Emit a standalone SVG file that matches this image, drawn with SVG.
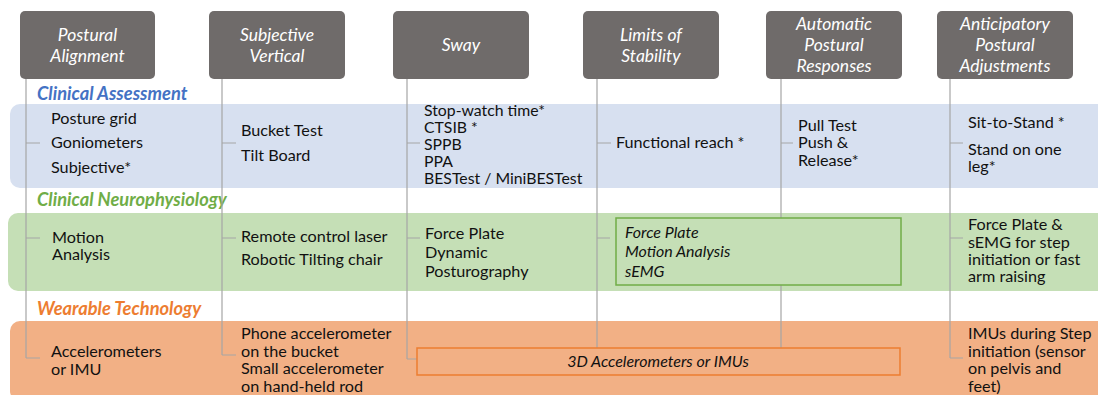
<svg xmlns="http://www.w3.org/2000/svg" width="1098" height="395" viewBox="0 0 1098 395">
<style>
.hdr{fill:#6f6b6a}
.ht{font-family:Lato,"Open Sans",sans-serif;font-style:italic;font-size:17.5px;fill:#ffffff;text-anchor:middle}
.t{font-family:Lato,"Open Sans",sans-serif;font-size:16.2px;fill:#111111}
.ts{font-family:Lato,"Open Sans",sans-serif;font-size:15.8px;fill:#111111}
.ti{font-family:Lato,"Open Sans",sans-serif;font-size:16px;font-style:italic;fill:#111111}
.sec{font-family:Lato,"Open Sans",sans-serif;font-size:18.3px;font-style:italic;font-weight:bold}
.ln{stroke:#a6a6a6;stroke-width:1.2;fill:none}
</style>
<g id="bands">
<rect x="10" y="104" width="1100" height="84" rx="10" fill="#d7e0f0"/>
<rect x="8" y="213" width="1100" height="78" rx="10" fill="#c5dfb6"/>
<rect x="10" y="321" width="1100" height="80" rx="10" fill="#f2b085"/>
</g>
<g id="section-labels">
<text class="sec" x="37" y="100" fill="#4472c4">Clinical Assessment</text>
<text class="sec" x="37" y="206" fill="#70ad47">Clinical Neurophysiology</text>
<text class="sec" x="37" y="315" fill="#ed7d31">Wearable Technology</text>
</g>
<g id="connectors">
<path class="ln" d="M26 79V358M26 143H40M26 238H40M26 358H40"/>
<path class="ln" d="M222 79V355M222 143H236M222 238H236M222 355H236"/>
<path class="ln" d="M407 79V359M407 143H420M407 238H420M407 359H417"/>
<path class="ln" d="M597 79V348M597 143H611M597 238H610"/>
<path class="ln" d="M781 79V348M781 143H793"/>
<path class="ln" d="M950 79V358M950 143H963M950 238H963M950 358H963"/>
</g>
<g id="node-postural-alignment">
<rect class="hdr" x="20" y="11" width="135" height="68" rx="5"/>
<text class="ht" x="87.5" y="41">Postural</text>
<text class="ht" x="87.5" y="62">Alignment</text>
</g>
<g id="node-subjective-vertical">
<rect class="hdr" x="209" y="11" width="136" height="68" rx="5"/>
<text class="ht" x="277" y="41">Subjective</text>
<text class="ht" x="277" y="62">Vertical</text>
</g>
<g id="node-sway">
<rect class="hdr" x="393" y="11" width="136" height="68" rx="5"/>
<text class="ht" x="461" y="51">Sway</text>
</g>
<g id="node-limits-of-stability">
<rect class="hdr" x="583" y="11" width="136" height="68" rx="5"/>
<text class="ht" x="651" y="41">Limits of</text>
<text class="ht" x="651" y="62">Stability</text>
</g>
<g id="node-automatic-postural-responses">
<rect class="hdr" x="766" y="11" width="136" height="68" rx="5"/>
<text class="ht" x="834" y="30">Automatic</text>
<text class="ht" x="834" y="51">Postural</text>
<text class="ht" x="834" y="72">Responses</text>
</g>
<g id="node-anticipatory-postural-adjustments">
<rect class="hdr" x="937" y="11" width="136" height="68" rx="5"/>
<text class="ht" x="1005" y="30">Anticipatory</text>
<text class="ht" x="1005" y="51">Postural</text>
<text class="ht" x="1005" y="72">Adjustments</text>
</g>
<g id="ca-postural-alignment">
<text class="t" x="51" y="124">Posture grid</text>
<text class="t" x="51" y="148">Goniometers</text>
<text class="t" x="51" y="173">Subjective*</text>
</g>
<g id="ca-subjective-vertical">
<text class="t" x="241" y="136">Bucket Test</text>
<text class="t" x="241" y="161">Tilt Board</text>
</g>
<g id="ca-sway">
<text class="ts" x="424" y="116">Stop-watch time*</text>
<text class="ts" x="424" y="133">CTSIB *</text>
<text class="ts" x="424" y="150">SPPB</text>
<text class="ts" x="424" y="167">PPA</text>
<text class="ts" x="424" y="184">BESTest / MiniBESTest</text>
</g>
<g id="ca-limits">
<text class="t" x="616" y="148">Functional reach *</text>
</g>
<g id="ca-automatic">
<text class="t" x="798" y="131">Pull Test</text>
<text class="t" x="798" y="148">Push &amp;</text>
<text class="t" x="798" y="166">Release*</text>
</g>
<g id="ca-anticipatory">
<text class="t" x="968" y="128">Sit-to-Stand *</text>
<text class="t" x="968" y="155">Stand on one</text>
<text class="t" x="968" y="172">leg*</text>
</g>
<g id="cn-postural-alignment">
<text class="t" x="52" y="243">Motion</text>
<text class="t" x="52" y="260">Analysis</text>
</g>
<g id="cn-subjective-vertical">
<text class="t" x="241" y="242">Remote control laser</text>
<text class="t" x="241" y="265">Robotic Tilting chair</text>
</g>
<g id="cn-sway">
<text class="t" x="425" y="239">Force Plate</text>
<text class="t" x="425" y="258">Dynamic</text>
<text class="t" x="425" y="277">Posturography</text>
</g>
<g id="cn-limits-automatic">
<rect x="616" y="218" width="285" height="67" fill="#c5dfb6" stroke="#70ad47" stroke-width="1.5"/>
<text class="ti" x="625" y="238">Force Plate</text>
<text class="ti" x="625" y="257">Motion Analysis</text>
<text class="ti" x="625" y="277">sEMG</text>
</g>
<g id="cn-anticipatory">
<text class="t" x="968" y="230">Force Plate &amp;</text>
<text class="t" x="968" y="248">sEMG for step</text>
<text class="t" x="968" y="265">initiation or fast</text>
<text class="t" x="968" y="282">arm raising</text>
</g>
<g id="wt-postural-alignment">
<text class="t" x="51" y="357">Accelerometers</text>
<text class="t" x="51" y="375">or IMU</text>
</g>
<g id="wt-subjective-vertical">
<text class="t" x="241" y="339">Phone accelerometer</text>
<text class="t" x="241" y="357">on the bucket</text>
<text class="t" x="241" y="374">Small accelerometer</text>
<text class="t" x="241" y="392">on hand-held rod</text>
</g>
<g id="wt-sway-limits-automatic">
<rect x="417" y="348" width="483" height="27" fill="#f2b085" stroke="#ed7d31" stroke-width="1.5"/>
<text class="ti" x="658" y="367" text-anchor="middle">3D Accelerometers or IMUs</text>
</g>
<g id="wt-anticipatory">
<text class="t" x="968" y="339">IMUs during Step</text>
<text class="t" x="968" y="357">initiation (sensor</text>
<text class="t" x="968" y="374">on pelvis and</text>
<text class="t" x="968" y="392">feet)</text>
</g>
</svg>
